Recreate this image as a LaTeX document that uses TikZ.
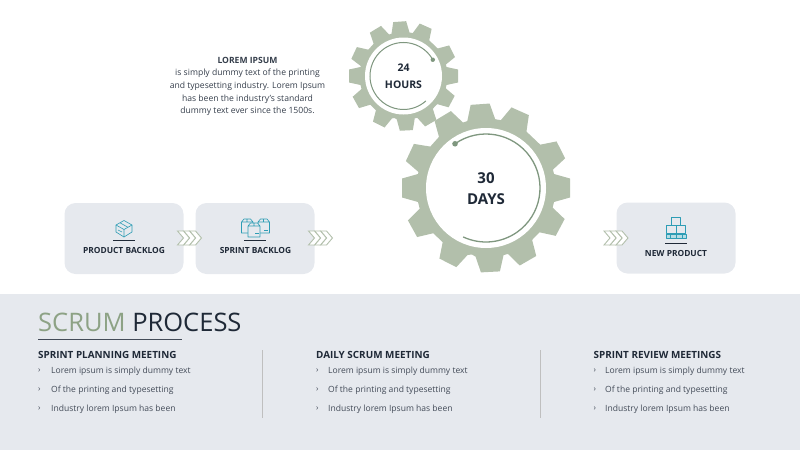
\documentclass[tikz,border=0pt]{standalone}
\usepackage{fontspec}
\setmainfont{Open Sans}
\usetikzlibrary{positioning,calc}
\definecolor{sage}{HTML}{B2BFAB}
\definecolor{sagedark}{HTML}{7F977F}
\definecolor{sagetext}{HTML}{8DA285}
\definecolor{panel}{HTML}{E6E9EE}
\definecolor{ink}{HTML}{1F2937}
\definecolor{bodytext}{HTML}{434B58}
\definecolor{teal}{HTML}{2E9DB5}
\tikzset{card/.style={fill=panel,draw=none,rounded corners=11pt,minimum width=119pt,minimum height=71pt},
         cardlabel/.style={font=\fontsize{8.4}{10}\selectfont\bfseries,text=ink},
         head/.style={font=\fontsize{9.9}{12}\selectfont\bfseries,text=ink,anchor=west,inner sep=0pt},
         item/.style={font=\fontsize{8.55}{10}\selectfont,text=bodytext,anchor=west,inner sep=0pt},
         tick/.style={font=\fontsize{8}{10}\selectfont,text=bodytext,anchor=west,inner sep=0pt},
         chev/.style={draw=sage,fill=white,line width=.9pt,line join=miter},
         icon/.style={draw=teal,line width=.6pt,fill=none,line join=round},
         sep/.style={draw=black!25,line width=.8pt}
}
% gear: centre, tooth tip radius, root radius, tip half width, base half width
\newcommand{\gearshape}[5]{
  \fill[sage] ($(#1)+(102:#3)$)
  \foreach \a in {87,60,28,0,-27,-66,-94,-121,-155,-180,-209,-243} {
    -- ($(#1)+(\a:#3)+(\a+90:#5)$) -- ($(#1)+(\a:#2)+(\a+90:#4)$)
    -- ($(#1)+(\a:#2)+(\a+90:-#4)$) -- ($(#1)+(\a:#3)+(\a+90:-#5)$)
  } -- cycle;
}
\newcommand{\chevrons}[2]{
  \foreach \i in {2,1,0}
    \draw[chev] ($(#1,#2)+(\i*6,0)$) -- ++(6,0) -- ++(6,7) -- ++(-6,7) -- ++(-6,0) -- ++(6,-7) -- cycle;
}
\begin{document}
\begin{tikzpicture}[x=1pt,y=-1pt]
  \useasboundingbox (0,0) rectangle (800,450);
  \fill[panel] (0,294) rectangle (800,450);
  % cards
  \node[card] (backlog) at (124,238.5) {};
  \node[card] (sprint) at (255,238.5) {};
  \node[card] (product) at (676,238) {};
  \node[cardlabel] (backloglbl) at (124,250.5) {PRODUCT BACKLOG};
  \node[cardlabel] (sprintlbl) at (255.5,250.5) {SPRINT BACKLOG};
  \node[cardlabel] (productlbl) at (676,253) {NEW PRODUCT};
  \draw[ink,line width=.6pt] (113,240) -- (135,240);
  \draw[ink,line width=.6pt] (244,240) -- (266,240);
  \draw[ink,line width=.6pt] (665,243) -- (687,243);
  \chevrons{177.5}{231}
  \chevrons{308.5}{231}
  \chevrons{604}{231}
  % gears
  \coordinate (small) at (403.5,76);
  \coordinate (big) at (486,188);
  \gearshape{small}{54.5}{43}{6.5}{9}
  \gearshape{big}{84}{68}{9.5}{14}
  \fill[white] (small) circle (38.5);
  \fill[white] (big) circle (60);
  \draw[sagedark,line width=1pt] ($(small)+(-29:33.5)$) arc[start angle=-29,end angle=-312,radius=33.5];
  \fill[sagedark] ($(small)+(-29:33.5)$) circle (2.2);
  \draw[sagedark,line width=1.3pt] ($(big)+(-125:54)$) arc[start angle=-125,end angle=115,radius=54];
  \fill[sagedark] ($(big)+(-125:54)$) circle (2.8);
  \node[font=\fontsize{10.5}{17}\selectfont\bfseries,text=ink,align=center] (hours) at (403.5,76.5) {24\\HOURS};
  \node[font=\fontsize{15}{21}\selectfont\bfseries,text=ink,align=center] (days) at (486,188.5) {30\\DAYS};
  % intro text
  \node[font=\fontsize{8.6}{12.6}\selectfont,text=ink!90,align=center] (intro) at (247.5,86.5) {{\bfseries LOREM IPSUM}\\is simply dummy text of the printing\\and typesetting industry. Lorem Ipsum\\has been the industry's standard\\dummy text ever since the 1500s.};
  % heading
  \node[font=\fontsize{25.5}{28}\selectfont,anchor=west,inner sep=0pt] (title) at (38,322) {\textcolor{sagetext}{SCRUM} \textcolor{ink}{PROCESS}};
  \draw[bodytext,line width=.9pt] (38,339) -- (182,339);
  \draw[sep] (262,350) -- (262,418);
  \draw[sep] (540,350) -- (540,418);
  % columns
  \foreach \x/\y/\n/\t in {38/51/a/SPRINT PLANNING MEETING,316/328/b/DAILY SCRUM MEETING,593.5/605/c/SPRINT REVIEW MEETINGS} {
    \node[head] (head\n) at (\x,355) {\t};
    \node[tick] at (\x,370.5) {›};
    \node[tick] at (\x,389.5) {›};
    \node[tick] at (\x,408.5) {›};
    \node[item] (one\n) at (\y,371) {Lorem ipsum is simply dummy text};
    \node[item] (two\n) at (\y,390) {Of the printing and typesetting};
    \node[item] (three\n) at (\y,409) {Industry lorem Ipsum has been};
  }
  % box icon
  \draw[icon] (116,225) -- (116,232) -- (124,237) -- (132,232) -- (132,225) -- (124,220.5) -- cycle;
  \draw[icon] (116,225) -- (124,229.5) -- (132,225) (124,229.5) -- (124,237);
  \draw[icon] (118,230) -- (122,232) (120,222.8) -- (128,227.3);
  % boxes icon
  \draw[icon] (241.5,222) rectangle (253,233) (241.5,222) -- (244,219) -- (250.5,219) -- (253,222) (247,219) -- (247,222);
  \draw[icon] (258,222) rectangle (269.5,233) (258,222) -- (260.5,219) -- (267,219) -- (269.5,222) (263.5,219) -- (263.5,222);
  \draw[icon,fill=panel] (248,226) rectangle (260,237) (248,226) -- (250.5,223) -- (257.5,223) -- (260,226) (254,223) -- (254,226);
  \draw[icon] (255,233) -- (258.5,233) (264,230) -- (268,230);
  % pallet icon
  \draw[icon] (671.5,217) rectangle (680.5,225);
  \draw[icon] (666.5,225) rectangle (676,233.5) (676,225) rectangle (685.5,233.5);
  \draw[icon,fill=teal!35] (666,234.5) rectangle (686,238);
  \draw[icon] (670,234.5) -- (670,238) (676,234.5) -- (676,238) (682,234.5) -- (682,238);
\end{tikzpicture}
\end{document}
